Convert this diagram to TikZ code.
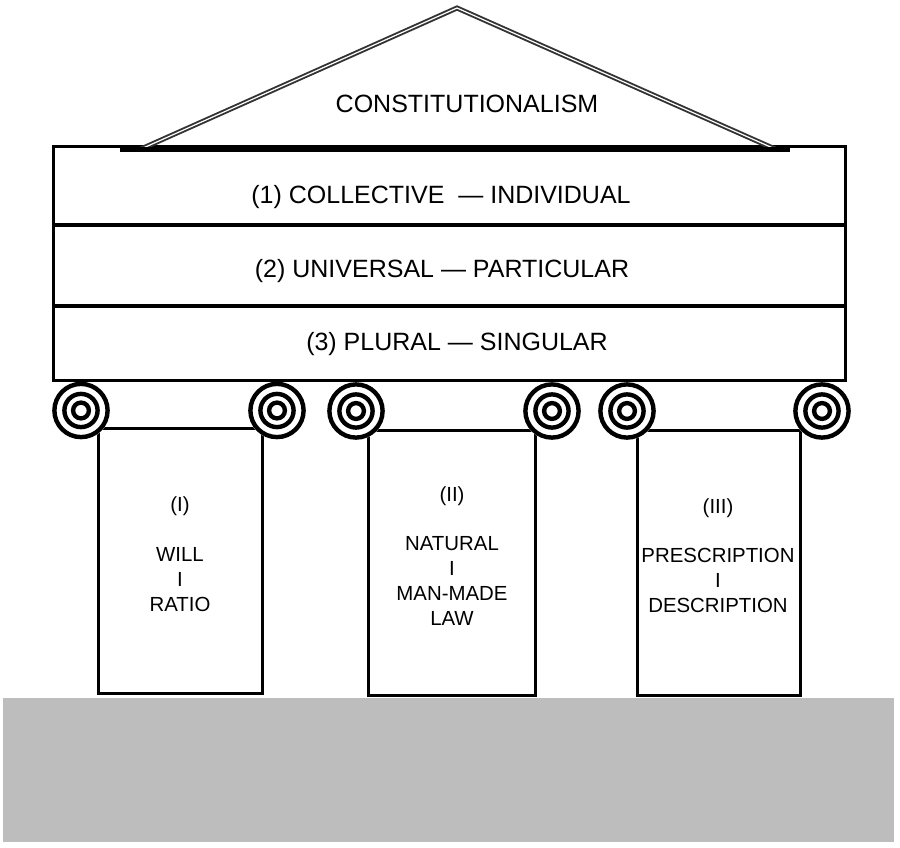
\documentclass[tikz,border=0pt]{standalone}
\usepackage{fontspec}
\setmainfont{Liberation Sans}
\definecolor{groundgray}{HTML}{BDBDBD}
\definecolor{roofgray}{HTML}{333333}
\tikzset{
  bandtext/.style={font=\fontsize{25}{30}\selectfont, inner sep=0pt},
  coltext/.style={font=\fontsize{20.4}{25}\selectfont, align=center, inner sep=0pt},
  outline/.style={line width=3pt},
  divider/.style={line width=4.5pt},
  shaft/.style={line width=3pt, fill=white},
  rooflines/.style={draw=roofgray, double=white, line width=1.9pt, double distance=1.2pt, line join=miter},
}
\begin{document}
\begin{tikzpicture}[x=1pt,y=-1pt]
\useasboundingbox (0,0) rectangle (900,848);
\fill[white] (0,0) rectangle (900,848);
% ground
\fill[groundgray] (3,698) rectangle (894,842);
% columns
\draw[shaft] (98,428) rectangle (262,693);
\draw[shaft] (368,430) rectangle (535,695);
\draw[shaft] (637,430) rectangle (800,695);
% volutes
\foreach \cx/\cy in {81/410.5,277/410.5,356/411,552/411,627/411,822/411}{
  \fill[white] (\cx,\cy) circle (29);
  \draw[line width=4.4pt] (\cx,\cy) circle (26.6);
  \draw[line width=4.4pt] (\cx,\cy) circle (16.6);
  \draw[line width=4.4pt] (\cx,\cy) circle (7.9);
}
% entablature
\draw[outline] (53,147) rectangle (845,380);
\draw[divider] (53,225) -- (845,225);
\draw[divider] (53,306) -- (845,306);
% roof
\draw[rooflines] (141,149) -- (457,8) -- (775,149);
\draw[line width=5pt] (120,149.5) -- (790,149.5);
% texts
\node[bandtext] (roof) at (467,104) {CONSTITUTIONALISM};
\node[bandtext] (band1) at (441,197.5) {(1) COLLECTIVE\ \ — INDIVIDUAL};
\node[bandtext] (band2) at (442,271.5) {(2) UNIVERSAL — PARTICULAR};
\node[bandtext] (band3) at (457,344.5) {(3) PLURAL — SINGULAR};
\node[coltext] (col1) at (180,554) {(I)\\[25pt]WILL\\I\\RATIO};
\node[coltext] (col2) at (452,556.5) {(II)\\[24pt]NATURAL\\I\\MAN-MADE\\LAW};
\node[coltext] (col3) at (718,556) {(III)\\[24pt]PRESCRIPTION\\I\\DESCRIPTION};
\end{tikzpicture}
\end{document}
